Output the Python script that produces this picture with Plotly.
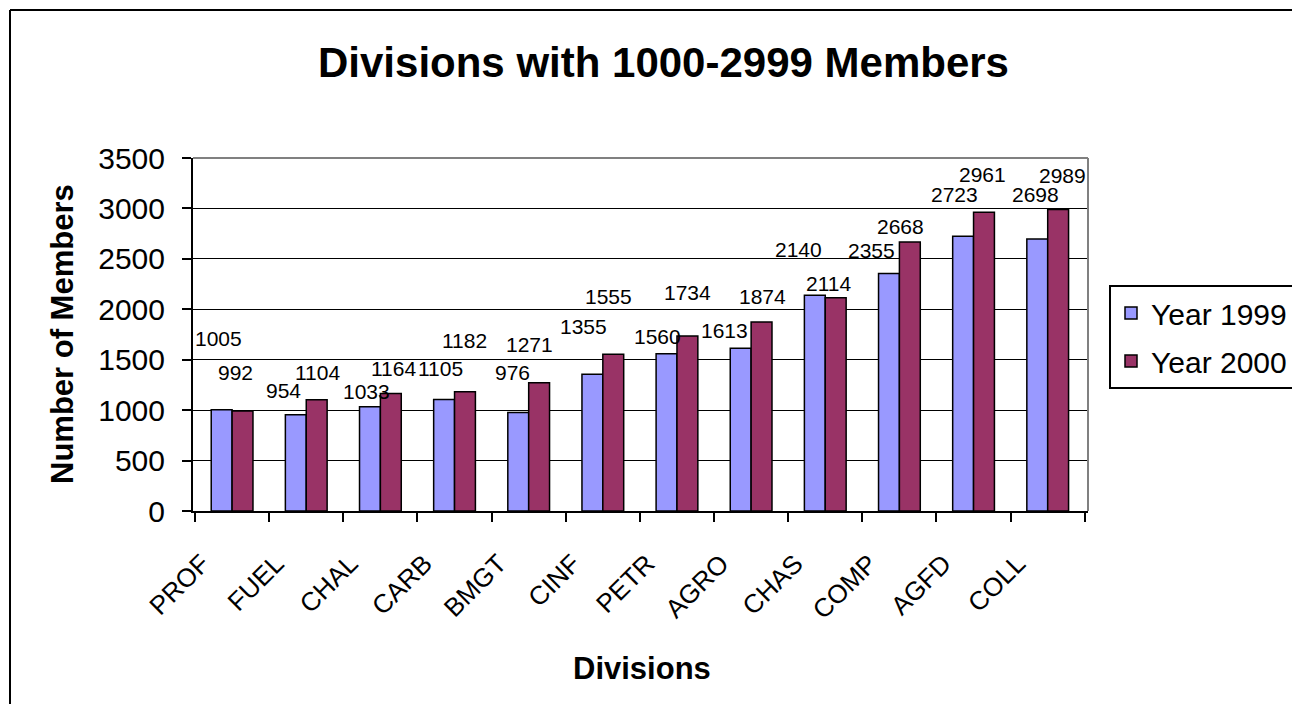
import plotly.graph_objects as go

# ---- data ----
divisions = ["PROF", "FUEL", "CHAL", "CARB", "BMGT", "CINF",
             "PETR", "AGRO", "CHAS", "COMP", "AGFD", "COLL"]
year_1999 = [1005, 954, 1033, 1105, 976, 1355, 1560, 1613, 2140, 2355, 2723, 2698]
year_2000 = [992, 1104, 1164, 1182, 1271, 1555, 1734, 1874, 2114, 2668, 2961, 2989]
y_ticks = [0, 500, 1000, 1500, 2000, 2500, 3000, 3500]

# ---- label placement offsets (pixels, relative to category centre / bar top) ----
dx_1999 = [-13.6, -23.2, -13.5, -14, -16.6, -19.2, -19.1, -26.4, -26.9, -27.8, -18.8, -12.7]
dy_1999 = [71.6, 23.8, 15.8, 31.5, 39.6, 47.6, 17, 18.3, 45.9, 22.8, 41.4, 43.9]
dx_2000 = [3.7, 11.1, 13, 10, 0.4, 5.8, 10.2, 11.6, 2.8, 1.5, 9.4, 14.8]
dy_2000 = [38, 26.7, 25.6, 51.1, 38.8, 57.5, 43.4, 25.3, 14.5, 15.2, 37.4, 34.5]

OFF = 8  # page body margin in the browser
W, H = 1300 - OFF, 712 - 2 * OFF
ML, MT = 193 - OFF, 158 - OFF
PW, PH = 895, 353
MR = W - ML - PW
MB = H - MT - PH


def px_x(px):
    # screen x pixel -> paper coordinate
    return (px - OFF - ML) / PW


def px_y(py):
    # screen y pixel -> paper coordinate
    return (MT + PH - (py - OFF)) / PH


FONT = "Liberation Sans, Arial, sans-serif"
C1999 = "#9999FF"
C2000 = "#993366"

fig = go.Figure()
fig.add_trace(go.Bar(name="Year 1999", x=divisions, y=year_1999, legendgroup="a",
                     marker=dict(color=C1999, line=dict(color="black", width=1.5))))
fig.add_trace(go.Bar(name="Year 2000", x=divisions, y=year_2000, legendgroup="b",
                     marker=dict(color=C2000, line=dict(color="black", width=1.5))))

annotations = []
for i, d in enumerate(divisions):
    annotations.append(dict(x=d, y=year_1999[i], xref="x", yref="y", text=str(year_1999[i]),
                            showarrow=False, xshift=dx_1999[i], yshift=dy_1999[i],
                            xanchor="center", yanchor="middle",
                            font=dict(family=FONT, size=21, color="black")))
    annotations.append(dict(x=d, y=year_2000[i], xref="x", yref="y", text=str(year_2000[i]),
                            showarrow=False, xshift=dx_2000[i], yshift=dy_2000[i],
                            xanchor="center", yanchor="middle",
                            font=dict(family=FONT, size=21, color="black")))

# axis titles
annotations.append(dict(x=px_x(62), y=px_y(334), xref="paper", yref="paper",
                        text="<b>Number of Members</b>", textangle=-90, showarrow=False,
                        xanchor="center", yanchor="middle",
                        font=dict(family=FONT, size=31, color="black")))
annotations.append(dict(x=px_x(642), y=px_y(668), xref="paper", yref="paper",
                        text="<b>Divisions</b>", showarrow=False,
                        xanchor="center", yanchor="middle",
                        font=dict(family=FONT, size=31, color="black")))

shapes = [
    # plot area top / right border (grey)
    dict(type="line", xref="paper", yref="paper", x0=0, x1=1, y0=1, y1=1,
         line=dict(color="#808080", width=2), layer="above"),
    dict(type="line", xref="paper", yref="paper", x0=1, x1=1, y0=0, y1=1,
         line=dict(color="#808080", width=2), layer="above"),
    # outer chart border (left and top edges visible)
    dict(type="line", xref="paper", yref="paper", x0=px_x(10), x1=px_x(10), y0=px_y(10), y1=px_y(704),
         line=dict(color="black", width=2)),
    dict(type="line", xref="paper", yref="paper", x0=px_x(10), x1=px_x(1300), y0=px_y(10), y1=px_y(10),
         line=dict(color="black", width=2)),
]

fig.update_layout(
    width=W, height=H,
    margin=dict(l=ML, r=MR, t=MT, b=MB, autoexpand=False),
    paper_bgcolor="white", plot_bgcolor="white",
    barmode="group", bargap=0.437, bargroupgap=0,
    title=dict(text="<b>Divisions with 1000-2999 Members</b>", x=(663.5 - OFF) / W, y=1 - (62 - OFF) / H,
               xanchor="center", yanchor="middle", xref="container", yref="container",
               font=dict(family=FONT, size=42, color="black")),
    legend=dict(x=px_x(1109), y=px_y(285), xanchor="left", yanchor="top",
                bordercolor="black", borderwidth=2, bgcolor="white",
                font=dict(family=FONT, size=30, color="black"),
                traceorder="grouped", tracegroupgap=6),
    font=dict(family=FONT, color="black"),
    annotations=annotations,
    shapes=shapes,
)

fig.update_xaxes(
    type="category", showgrid=False, showline=True, linecolor="black", linewidth=2,
    ticks="outside", tickson="boundaries", ticklen=9, tickwidth=2, tickcolor="black",
    tickangle=-45, tickfont=dict(family=FONT, size=26, color="black"),
    ticklabelshift=-30, ticklabelstandoff=25,
)
fig.update_yaxes(
    range=[0, 3500], tickvals=y_ticks, showgrid=True, gridcolor="black", gridwidth=1,
    showline=True, linecolor="black", linewidth=2, zeroline=False,
    ticks="outside", ticklen=9, tickwidth=2, tickcolor="black",
    tickfont=dict(family=FONT, size=30, color="black"), ticklabelstandoff=11,
)

fig.write_html("out.html")
